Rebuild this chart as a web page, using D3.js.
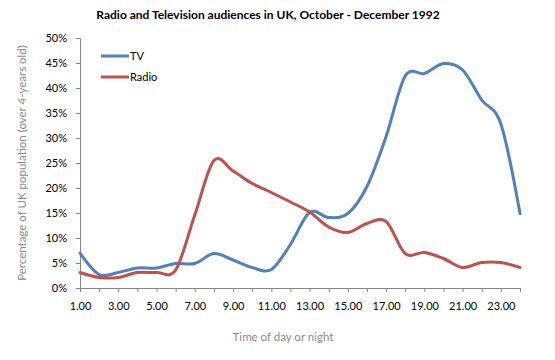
<!DOCTYPE html>
<html>
<head>
<meta charset="utf-8">
<script src="https://cdn.jsdelivr.net/npm/d3@7"></script>
<style>
  body { margin: 0; background: #fff; }
  svg { font-family: Lato, "Liberation Sans", sans-serif; }
</style>
</head>
<body>
<script>
var hours = ["1.00", "2.00", "3.00", "4.00", "5.00", "6.00", "7.00", "8.00",
  "9.00", "10.00", "11.00", "12.00", "13.00", "14.00", "15.00", "16.00",
  "17.00", "18.00", "19.00", "20.00", "21.00", "22.00", "23.00", "24.00"];
var tv = [7, 2.7, 3.1, 4, 4, 4.9, 4.9, 6.9, 5.6, 4.1, 3.7, 8.7, 15.1, 14.1, 14.9, 20.3,
  30.3, 42.4, 42.9, 44.9, 43.6, 37.6, 32.8, 14.9];
var radio = [3.1, 2.1, 2.1, 3.1, 3.1, 3.6, 14.6, 25.5, 23.4, 20.9, 19.1, 17.2, 15.2, 12.2,
  11.1, 12.9, 13.3, 6.9, 7.1, 5.9, 4.1, 5.1, 5.1, 4.1];
var yTicks = [0, 5, 10, 15, 20, 25, 30, 35, 40, 45, 50];
var series = [
  {name: "TV", values: tv, color: "#4f81bd"},
  {name: "Radio", values: radio, color: "#c0504d"}
];

var width = 555, height = 360;
var margin = {top: 38, right: 35, bottom: 72, left: 80};

var svg = d3.select("body").append("svg")
  .attr("width", width)
  .attr("height", height);

var x = d3.scalePoint()
  .domain(hours)
  .range([margin.left, width - margin.right]);

var y = d3.scaleLinear()
  .domain([0, 50])
  .range([height - margin.bottom, margin.top]);

svg.append("text")
  .attr("x", 268)
  .attr("y", 19)
  .attr("text-anchor", "middle")
  .style("font-size", "12px")
  .style("font-weight", "bold")
  .text("Radio and Television audiences in UK, October - December 1992");

// axes
var yAxis = svg.append("g")
  .attr("transform", "translate(" + margin.left + ",0)")
  .call(d3.axisLeft(y).tickValues(yTicks).tickSize(4).tickPadding(9)
    .tickFormat(function(d) { return d + "%"; }));

var xAxis = svg.append("g")
  .attr("transform", "translate(0," + y(0) + ")")
  .call(d3.axisBottom(x).tickSize(4).tickPadding(10)
    .tickFormat(function(d, i) { return i % 2 === 0 ? d : ""; }));

[xAxis, yAxis].forEach(function(a) {
  a.select(".domain").attr("stroke", "#868686");
  a.selectAll(".tick line").attr("stroke", "#868686");
  a.selectAll("text").style("font-size", "11px").attr("fill", "#000")
    .style("font-family", "Lato, 'Liberation Sans', sans-serif");
});

svg.append("text")
  .attr("transform", "translate(26," + ((y(0) + y(50)) / 2) + ") rotate(-90)")
  .attr("text-anchor", "middle")
  .attr("fill", "#8c8c8c")
  .style("font-size", "11.5px")
  .text("Percentage of UK population (over 4-years old)");

svg.append("text")
  .attr("x", 283)
  .attr("y", 341)
  .attr("text-anchor", "middle")
  .attr("fill", "#8c8c8c")
  .style("font-size", "11.5px")
  .text("Time of day or night");

// lines
var line = d3.line()
  .x(function(d, i) { return x(hours[i]); })
  .y(function(d) { return y(d); })
  .curve(d3.curveCatmullRom.alpha(0));

svg.selectAll(".series")
  .data(series)
  .enter().append("path")
  .attr("class", "series")
  .attr("fill", "none")
  .attr("stroke", function(d) { return d.color; })
  .attr("stroke-width", 3)
  .attr("stroke-linecap", "round")
  .attr("d", function(d) { return line(d.values); });

// legend
var legend = svg.selectAll(".legend")
  .data(series)
  .enter().append("g")
  .attr("class", "legend")
  .attr("transform", function(d, i) { return "translate(101," + (56 + i * 21) + ")"; });

legend.append("line")
  .attr("x1", 0).attr("x2", 28)
  .attr("stroke", function(d) { return d.color; })
  .attr("stroke-width", 3);

legend.append("text")
  .attr("x", 29)
  .attr("y", 4)
  .style("font-size", "11px")
  .text(function(d) { return d.name; });
</script>
</body>
</html>
